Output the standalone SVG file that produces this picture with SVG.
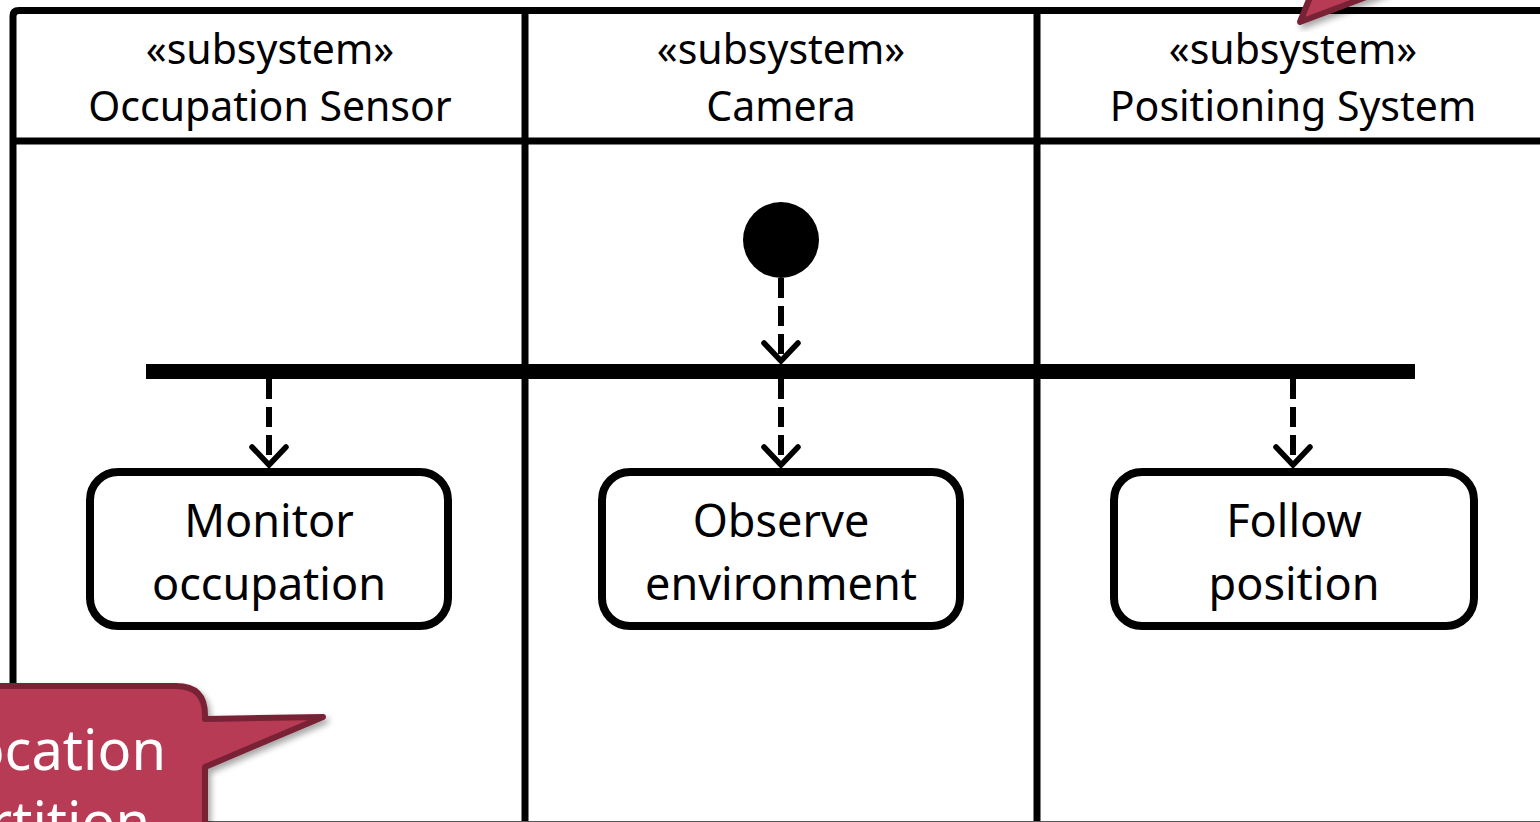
<svg xmlns="http://www.w3.org/2000/svg" width="1540" height="822" viewBox="0 0 1540 822">
  <style>
    .lane { fill: none; stroke: #000; stroke-width: 7; }
    .hdr { font-family: "Noto Sans", "Open Sans", sans-serif; font-size: 41px; fill: #000; text-anchor: middle; }
    .act { fill: #fff; stroke: #000; stroke-width: 8; }
    .actlbl { font-family: "Noto Sans", "Open Sans", sans-serif; font-size: 45px; fill: #000; text-anchor: middle; }
    .flow { fill: none; stroke: #000; stroke-width: 6; stroke-dasharray: 20 8; }
    .note { fill: #B83A55; stroke: #7A2336; stroke-width: 6; stroke-linejoin: round; }
    .notelbl { font-family: "Noto Sans", "Open Sans", sans-serif; font-size: 56px; fill: #fff; text-anchor: end; }
  </style>
  <defs>
    <!-- open V arrowhead for control flows -->
    <marker id="open" viewBox="0 0 26 42" refX="22" refY="21" markerWidth="26" markerHeight="42" markerUnits="userSpaceOnUse" orient="auto">
      <path d="M4,4 L22,21 L4,38" fill="none" stroke="#000" stroke-width="5.5" stroke-linecap="round" stroke-linejoin="miter"/>
    </marker>
    <filter id="shadow" x="-20%" y="-20%" width="150%" height="150%">
      <feGaussianBlur in="SourceAlpha" stdDeviation="3"/>
      <feOffset dx="3" dy="4" result="b"/>
      <feComponentTransfer><feFuncA type="linear" slope="0.35"/></feComponentTransfer>
      <feMerge><feMergeNode/><feMergeNode in="SourceGraphic"/></feMerge>
    </filter>
  </defs>

  <rect width="1540" height="822" fill="#fff"/>

  <!-- swimlane partitions -->
  <g id="partitions">
    <path class="lane" d="M13,830 L13,16 Q13,10.5 19,10.5 L1545,10.5"/>
    <line class="lane" x1="13" y1="141" x2="1545" y2="141"/>
    <line class="lane" x1="525" y1="10" x2="525" y2="830"/>
    <line class="lane" x1="1037" y1="10" x2="1037" y2="830"/>
    <line x1="0" y1="821.5" x2="1540" y2="821.5" stroke="#555" stroke-width="1"/>
  </g>

  <g id="lane-occupation-sensor">
    <text class="hdr" x="270" y="64">«subsystem»</text>
    <text class="hdr" x="270" y="121">Occupation Sensor</text>
  </g>
  <g id="lane-camera">
    <text class="hdr" x="781" y="64">«subsystem»</text>
    <text class="hdr" x="781" y="121">Camera</text>
  </g>
  <g id="lane-positioning-system">
    <text class="hdr" x="1293" y="64">«subsystem»</text>
    <text class="hdr" x="1293" y="121">Positioning System</text>
  </g>

  <!-- control flows -->
  <g id="connectors">
    <line class="flow" x1="781" y1="278" x2="781" y2="361" marker-end="url(#open)"/>
    <line class="flow" x1="269" y1="379" x2="269" y2="465" marker-end="url(#open)"/>
    <line class="flow" x1="781" y1="379" x2="781" y2="465" marker-end="url(#open)"/>
    <line class="flow" x1="1293" y1="379" x2="1293" y2="465" marker-end="url(#open)"/>
  </g>

  <g id="initial">
    <circle cx="781" cy="240" r="38" fill="#000"/>
  </g>

  <g id="fork">
    <rect x="146" y="364" width="1269" height="15" fill="#000"/>
  </g>

  <g id="monitor-occupation">
    <rect class="act" x="90" y="472" width="358" height="154" rx="28"/>
    <text class="actlbl" x="269" y="537">Monitor</text>
    <text class="actlbl" x="269" y="600">occupation</text>
  </g>
  <g id="observe-environment">
    <rect class="act" x="602" y="472" width="358" height="154" rx="28"/>
    <text class="actlbl" x="781" y="537">Observe</text>
    <text class="actlbl" x="781" y="600">environment</text>
  </g>
  <g id="follow-position">
    <rect class="act" x="1114" y="472" width="360" height="154" rx="28"/>
    <text class="actlbl" x="1294" y="537">Follow</text>
    <text class="actlbl" x="1294" y="600">position</text>
  </g>

  <!-- callouts -->
  <g id="callout-top" filter="url(#shadow)">
    <path class="note" d="M1300,22 L1313,-10 L1385,-10 Z"/>
  </g>
  <g id="callout-partition" filter="url(#shadow)">
    <path class="note" d="M-10,686 L176,686 Q205,686 205,715 L205,719 L323,717 L205,767 L205,840 L-10,840 Z"/>
    <text class="notelbl" x="166" y="770">ocation</text>
    <text class="notelbl" x="150" y="842">rtition</text>
  </g>
</svg>
